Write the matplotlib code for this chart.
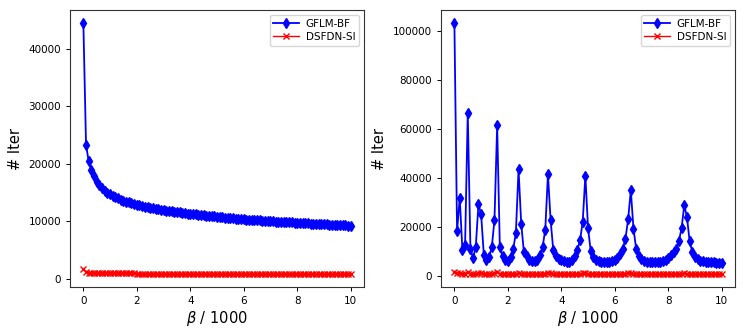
import numpy as np
import matplotlib
matplotlib.use("Agg")
import matplotlib.pyplot as plt

# beta / 1000, step 0.1
beta = np.round(np.arange(0, 101) * 0.1, 1)

# left panel
gflm_left = [44500, 23300, 20400, 18900, 17800, 16900, 16300, 15800, 15350, 15000,
             14700, 14450, 14200, 14000, 13800, 13620, 13450, 13300, 13150, 13020,
             12900, 12780, 12670, 12560, 12460, 12370, 12280, 12190, 12110, 12030,
             11950, 11880, 11810, 11740, 11670, 11610, 11550, 11490, 11430, 11370,
             11300, 11250, 11200, 11150, 11100, 11050, 11000, 10950, 10900, 10850,
             10800, 10755, 10710, 10665, 10620, 10575, 10530, 10485, 10440, 10395,
             10350, 10320, 10290, 10255, 10220, 10190, 10160, 10125, 10095, 10060,
             10030, 10000, 9975, 9945, 9920, 9890, 9865, 9840, 9810, 9785,
             9760, 9735, 9710, 9685, 9660, 9630, 9605, 9580, 9555, 9530,
             9500, 9475, 9450, 9425, 9400, 9375, 9350, 9325, 9300, 9275,
             9250]
dsfdn_left = [1800, 1150, 1100, 1080, 1060, 1050, 1040, 1030, 1020, 1010,
              1000, 995, 990, 985, 980, 975, 970, 965, 960, 955,
              950, 945, 940, 935, 930, 925, 920, 915, 910, 905,
              900, 898, 896, 894, 892, 890, 888, 886, 884, 882,
              880, 878, 876, 874, 872, 870, 868, 866, 864, 862,
              860, 858, 856, 854, 852, 850, 848, 846, 844, 842,
              840, 838, 836, 834, 832, 830, 828, 826, 824, 822,
              820, 819, 818, 817, 816, 815, 814, 813, 812, 811,
              810, 809, 808, 807, 806, 805, 804, 803, 802, 801,
              800, 799, 798, 797, 796, 795, 794, 793, 792, 791,
              790]

# right panel
gflm_right = [103500, 18500, 31950, 10600, 12900, 66800, 11000, 7500, 11950, 29400,
              25300, 8850, 6500, 7900, 11950, 23100, 61600, 11950, 8150, 6800,
              6300, 8000, 11000, 17700, 43650, 21500, 9900, 8150, 6800, 6100,
              6100, 6800, 8550, 11950, 19050, 41600, 22850, 10600, 8200, 7100,
              6500, 6100, 5900, 6000, 6500, 8200, 10600, 14700, 22150, 41100,
              19700, 10300, 7800, 6700, 6200, 5900, 5800, 5800, 5900, 6200,
              6700, 7600, 9000, 11300, 15400, 23250, 35100, 19450, 11300, 8300,
              7000, 6400, 6000, 5900, 5800, 5800, 5800, 5900, 6200, 6700,
              7500, 8500, 9800, 11300, 14400, 19700, 29000, 24200, 14400, 9900,
              7800, 6900, 6400, 6100, 5900, 5800, 5700, 5700, 5600, 5600,
              5600]
dsfdn_right = [1600, 1200, 1500, 1000, 1100, 1900, 1100, 900, 1000, 1300,
               1200, 950, 900, 920, 1000, 1200, 1700, 1100, 950, 900,
               900, 900, 950, 1050, 1400, 1100, 950, 900, 880, 880,
               880, 880, 900, 1000, 1100, 1400, 1150, 950, 880, 860,
               850, 850, 850, 850, 860, 900, 950, 1050, 1150, 1350,
               1100, 930, 870, 850, 840, 830, 830, 830, 830, 840,
               850, 870, 900, 950, 1050, 1150, 1250, 1100, 950, 880,
               840, 820, 810, 800, 800, 800, 800, 800, 800, 810,
               820, 830, 850, 900, 950, 1050, 1150, 1100, 950, 860,
               800, 780, 770, 760, 760, 750, 750, 750, 750, 750,
               750]

fig = plt.figure(figsize=(7.47, 3.32), dpi=100)
ax1 = fig.add_axes([0.0937, 0.1355, 0.3936, 0.834])
ax2 = fig.add_axes([0.5904, 0.1355, 0.3936, 0.834])

for ax, g, d in [(ax1, gflm_left, dsfdn_left), (ax2, gflm_right, dsfdn_right)]:
    ax.plot(beta, g, color='blue', marker='d', ms=5.5, lw=1.3, label='GFLM-BF')
    ax.plot(beta, d, color='red', marker='x', ms=5, lw=1.0, mew=1.0, label='DSFDN-SI')
    ax.set_xlabel(r'$\beta$ / 1000', fontsize=10.5, labelpad=2)
    ax.set_ylabel('# Iter', fontsize=10.5)
    ax.tick_params(labelsize=7.5, width=0.7, length=3)
    ax.set_xticks([0, 2, 4, 6, 8, 10])
    for s in ax.spines.values():
        s.set_linewidth(0.8)
        s.set_color('#333333')
    ax.legend(loc='upper right', fontsize=7.5, handlelength=2.5,
              borderpad=0.35, labelspacing=0.3, handletextpad=0.6)

ax1.set_yticks([0, 10000, 20000, 30000, 40000])
ax2.set_yticks([0, 20000, 40000, 60000, 80000, 100000])

fig.savefig('out.png', dpi=100)
